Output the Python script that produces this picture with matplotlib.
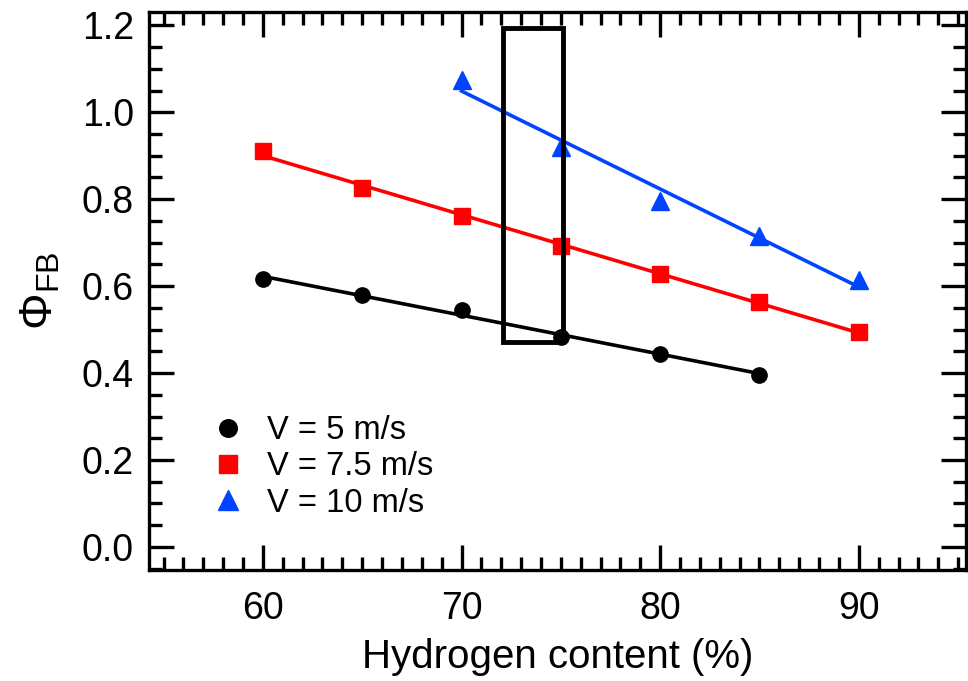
import numpy as np
import matplotlib
matplotlib.use("Agg")
import matplotlib.pyplot as plt
from matplotlib.patches import Rectangle
from matplotlib.ticker import MultipleLocator

plt.rcParams['font.family'] = ['Liberation Sans', 'DejaVu Sans']
plt.rcParams['mathtext.fontset'] = 'custom'
plt.rcParams['mathtext.rm'] = 'Liberation Sans'
plt.rcParams['mathtext.it'] = 'Liberation Sans:italic'

# hydrogen content (%) and Phi_FB for each velocity
h_5 = [60, 65, 70, 75, 80, 85]
phi_5 = [0.616, 0.579, 0.545, 0.484, 0.444, 0.396]

h_75 = [60, 65, 70, 75, 80, 85, 90]
phi_75 = [0.910, 0.825, 0.761, 0.692, 0.628, 0.563, 0.495]

h_10 = [70, 75, 80, 85, 90]
phi_10 = [1.074, 0.920, 0.795, 0.715, 0.613]

labels = ["V = 5 m/s", "V = 7.5 m/s", "V = 10 m/s"]

# highlighted box (data units)
box_x = [72.1, 75.1]
box_y = [0.471, 1.193]

fig = plt.figure(figsize=(9.68, 6.81), dpi=100)
ax = fig.add_axes([0.154, 0.163, 0.844, 0.819])

series = [
    (h_5, phi_5, "o", "black", 11),
    (h_75, phi_75, "s", "#ff0000", 11),
    (h_10, phi_10, "^", "#0044ff", 12.5),
]
for (x, y, m, c, ms), lab in zip(series, labels):
    ax.plot(x, y, linestyle="none", marker=m, color=c, markersize=ms, label=lab)
    k, b = np.polyfit(x, y, 1)
    xs = np.array([x[0], x[-1]])
    ax.plot(xs, k * xs + b, color=c, lw=2.6)

ax.add_patch(Rectangle((box_x[0], box_y[0]), box_x[1] - box_x[0], box_y[1] - box_y[0],
                       fill=False, edgecolor="black", lw=3.5, zorder=5))

ax.set_xlim(54.27, 95.4)
ax.set_ylim(-0.053, 1.23)
ax.xaxis.set_major_locator(MultipleLocator(10))
ax.xaxis.set_minor_locator(MultipleLocator(1))
ax.yaxis.set_major_locator(MultipleLocator(0.2))
ax.yaxis.set_minor_locator(MultipleLocator(0.05))
ax.yaxis.set_major_formatter(matplotlib.ticker.FormatStrFormatter("%.1f"))

ax.tick_params(which="both", direction="in", top=True, right=True, width=2.4, labelsize=27)
ax.tick_params(which="major", length=18)
ax.tick_params(which="minor", length=9.5)
ax.tick_params(axis="x", which="major", pad=15)
ax.tick_params(axis="y", which="major", pad=11)
for s in ax.spines.values():
    s.set_linewidth(2.4)

ax.set_xlabel("Hydrogen content (%)", fontsize=29, labelpad=8)
ax.set_ylabel(r"$\Phi_{\mathrm{FB}}$", fontsize=33, labelpad=14)

ax.legend(loc="upper left", bbox_to_anchor=(0.053, 0.307), frameon=False, fontsize=23.5,
          handletextpad=0.6, labelspacing=0.16, borderpad=0, handlelength=1.2,
          markerscale=1.15)

fig.savefig("out.png", dpi=100)
